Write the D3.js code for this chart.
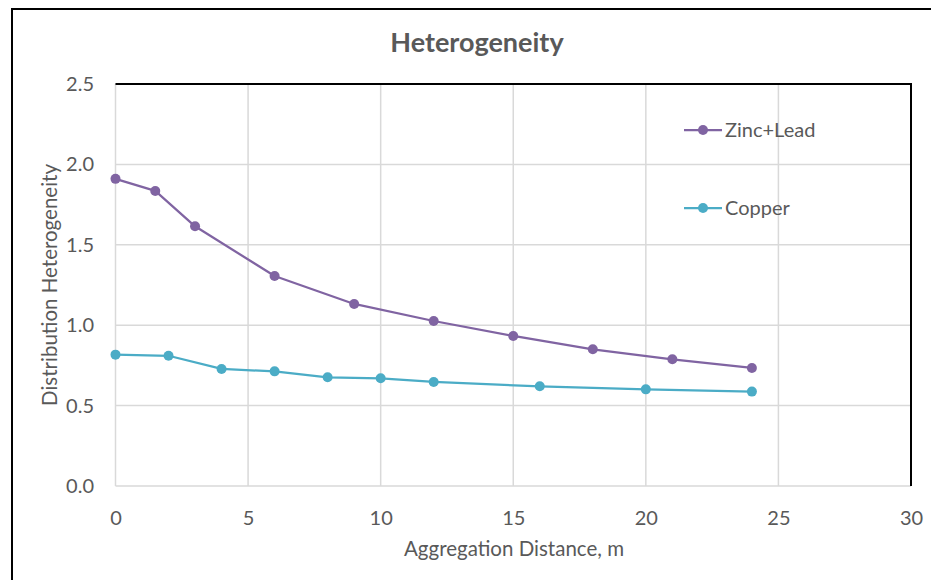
<!DOCTYPE html>
<html>
<head>
<meta charset="utf-8">
<script src="https://cdn.jsdelivr.net/npm/d3@7"></script>
<style>
  html, body { margin: 0; padding: 0; background: #fff; }
  svg { display: block; font-family: Lato, "Open Sans", sans-serif; }
</style>
</head>
<body>
<svg id="chart" width="931" height="580"></svg>
<script>
// Aggregation distance (m) and distribution heterogeneity per element group
const zincLeadX = [0, 1.5, 3, 6, 9, 12, 15, 18, 21, 24];
const zincLeadY = [1.91, 1.835, 1.615, 1.306, 1.132, 1.026, 0.933, 0.85, 0.788, 0.734];
const copperX = [0, 2, 4, 6, 8, 10, 12, 16, 20, 24];
const copperY = [0.817, 0.81, 0.728, 0.713, 0.676, 0.67, 0.647, 0.62, 0.601, 0.587];
const seriesNames = ["Zinc+Lead", "Copper"];
const xTicks = [0, 5, 10, 15, 20, 25, 30];
const yTicks = [0, 0.5, 1.0, 1.5, 2.0, 2.5];

const colors = ["#8064A2", "#4BACC6"];
const series = [
  { name: seriesNames[0], pts: zincLeadX.map((x, i) => [x, zincLeadY[i]]), color: colors[0] },
  { name: seriesNames[1], pts: copperX.map((x, i) => [x, copperY[i]]), color: colors[1] }
];

const svg = d3.select("#chart");
const plot = { left: 115.5, right: 911, top: 84, bottom: 486 };

const x = d3.scaleLinear().domain([0, 30]).range([plot.left, plot.right]);
const y = d3.scaleLinear().domain([0, 2.5]).range([plot.bottom, plot.top]);

// Outer chart frame (left and top edges)
svg.append("path")
  .attr("d", "M12,580 L12,9 L931,9")
  .attr("fill", "none").attr("stroke", "#000").attr("stroke-width", 2);

// Gridlines
const grid = svg.append("g");
grid.selectAll("line.h").data(yTicks).join("line")
  .attr("x1", plot.left).attr("x2", plot.right)
  .attr("y1", d => y(d)).attr("y2", d => y(d))
  .attr("stroke", "#d9d9d9").attr("stroke-width", 1.5);
grid.selectAll("line.v").data(xTicks).join("line")
  .attr("x1", d => x(d)).attr("x2", d => x(d))
  .attr("y1", plot.top).attr("y2", plot.bottom)
  .attr("stroke", "#d9d9d9").attr("stroke-width", 1.5);

// Plot area border: top and right in black
svg.append("path")
  .attr("d", `M${plot.left},${plot.top} L${plot.right},${plot.top} L${plot.right},${plot.bottom}`)
  .attr("fill", "none").attr("stroke", "#000").attr("stroke-width", 2);

// Axes
const xAxis = svg.append("g").attr("transform", `translate(0,${plot.bottom})`)
  .call(d3.axisBottom(x).tickValues(xTicks).tickSize(0).tickPadding(25).tickFormat(d3.format("d")));
const yAxis = svg.append("g").attr("transform", `translate(${plot.left},0)`)
  .call(d3.axisLeft(y).tickValues(yTicks).tickSize(0).tickPadding(21.5).tickFormat(d3.format(".1f")));
[xAxis, yAxis].forEach(a => {
  a.select(".domain").remove();
  a.selectAll("text").attr("fill", "#595959").style("font-size", "20px")
    .style("font-family", "Lato, 'Open Sans', sans-serif");
});

// Series lines and markers
const line = d3.line().x(d => x(d[0])).y(d => y(d[1]));
series.forEach(s => {
  svg.append("path").datum(s.pts)
    .attr("d", line).attr("fill", "none")
    .attr("stroke", s.color).attr("stroke-width", 2.25).attr("stroke-linejoin", "round");
  svg.append("g").selectAll("circle").data(s.pts).join("circle")
    .attr("cx", d => x(d[0])).attr("cy", d => y(d[1])).attr("r", 5)
    .attr("fill", s.color);
});

// Legend
const legendY = [130, 208];
series.forEach((s, i) => {
  const g = svg.append("g").attr("transform", `translate(684,${legendY[i]})`);
  g.append("line").attr("x1", 0).attr("x2", 38).attr("y1", 0).attr("y2", 0)
    .attr("stroke", s.color).attr("stroke-width", 2.25);
  g.append("circle").attr("cx", 19).attr("cy", 0).attr("r", 5).attr("fill", s.color);
  g.append("text").attr("x", 41).attr("y", 0).attr("dy", "0.35em")
    .attr("fill", "#595959").style("font-size", "20px").text(s.name);
});

// Title
svg.append("text").attr("x", 477).attr("y", 52).attr("text-anchor", "middle")
  .attr("fill", "#595959").style("font-size", "27px").style("font-weight", "bold")
  .text("Heterogeneity");

// Axis titles
svg.append("text").attr("x", 514).attr("y", 556).attr("text-anchor", "middle")
  .attr("fill", "#595959").style("font-size", "20.5px")
  .text("Aggregation Distance, m");
svg.append("text")
  .attr("transform", "translate(57,285) rotate(-90)")
  .attr("text-anchor", "middle")
  .attr("fill", "#595959").style("font-size", "20.5px")
  .text("Distribution Heterogeneity");
</script>
</body>
</html>
